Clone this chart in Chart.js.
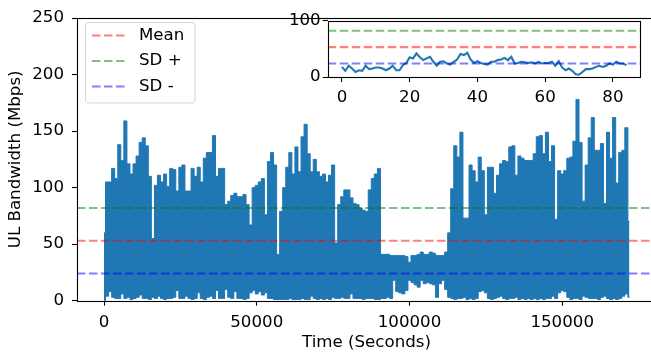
<!DOCTYPE html>
<html>
<head>
<meta charset="utf-8">
<script src="https://cdn.jsdelivr.net/npm/chart.js@4.4.0/dist/chart.umd.min.js"></script>
<style>
  html, body { margin: 0; padding: 0; background: #fff; overflow: hidden; }
  #wrap { position: relative; width: 651px; height: 358px; overflow: hidden; }
  #mainChart { position: absolute; left: 0; top: 0; }
  #insetChart { position: absolute; left: 275px; top: 8px; }
</style>
</head>
<body>
<div id="wrap">
  <canvas id="mainChart" width="656" height="358"></canvas>
  <canvas id="insetChart" width="376" height="100"></canvas>
</div>
<script>
// UL bandwidth envelope, one sample every 1000 s
const sampleStep = 1000;
const bwHigh = [
  60, 105, 105, 117, 108, 138, 124, 159, 121, 112,
  121, 128, 140, 144, 137, 110, 55, 102, 111, 105,
  112, 101, 117, 116, 97, 118, 120, 97, 97, 117,
  110, 118, 105, 126, 131, 131, 146, 110, 117, 117,
  85, 88, 93, 95, 92, 92, 94, 85, 67, 100,
  102, 105, 108, 76, 123, 131, 120, 41, 79, 100,
  118, 131, 112, 136, 114, 145, 156, 130, 114, 125,
  114, 110, 112, 105, 111, 120, 51, 85, 92, 98,
  98, 91, 86, 85, 82, 80, 79, 98, 108, 112,
  117, 41, 41, 41, 40, 40, 40, 40, 40, 39,
  34, 40, 40, 41, 43, 41, 41, 43, 42, 40,
  40, 40, 43, 60, 99, 137, 127, 149, 73, 73,
  120, 115, 105, 127, 115, 76, 118, 118, 95, 111,
  121, 124, 123, 136, 137, 111, 128, 126, 124, 124,
  124, 130, 145, 146, 130, 149, 123, 137, 72, 115,
  112, 115, 126, 127, 141, 178, 140, 88, 120, 144,
  162, 133, 133, 139, 86, 149, 126, 162, 104, 131,
  133, 153, 70
];
const bwLow = [
  0, 4, 8, 3, 2, 2, 6, 2, 3, 1,
  2, 3, 5, 2, 2, 1, 3, 2, 4, 2,
  1, 2, 2, 3, 9, 2, 2, 4, 2, 1,
  2, 7, 2, 1, 3, 4, 2, 9, 2, 2,
  10, 3, 2, 8, 2, 2, 1, 2, 7, 9,
  6, 8, 5, 7, 2, 2, 1, 1, 1, 1,
  1, 2, 1, 1, 1, 2, 1, 1, 4, 2,
  1, 2, 1, 2, 1, 3, 2, 2, 3, 2,
  2, 6, 2, 2, 2, 1, 2, 2, 2, 1,
  1, 2, 2, 3, 2, 18, 8, 7, 6, 9,
  18, 16, 14, 12, 18, 15, 16, 15, 14, 3,
  15, 18, 10, 3, 2, 1, 2, 2, 3, 1,
  2, 1, 2, 8, 9, 7, 2, 1, 2, 3,
  4, 2, 1, 2, 2, 3, 1, 2, 1, 2,
  1, 2, 1, 2, 1, 2, 2, 4, 2, 7,
  9, 8, 3, 1, 2, 2, 1, 4, 3, 2,
  2, 2, 1, 3, 4, 2, 1, 2, 1, 2,
  4, 6, 3
];

// reference lines
const meanBw = 53;
const sdPlusBw = 82;
const sdMinusBw = 24;

// inset series (first 85 samples)
const insetBw = [
  18, 11, 20, 15, 9, 12, 11, 20, 14, 15,
  17, 17, 15, 12, 15, 20, 12, 12, 21, 25,
  35, 33, 42, 35, 30, 33, 36, 27, 20, 27,
  28, 24, 22, 27, 31, 41, 39, 43, 31, 25,
  28, 25, 23, 22, 27, 27, 30, 31, 34, 30,
  36, 24, 25, 27, 26, 25, 26, 24, 27, 24,
  25, 25, 27, 20, 28, 17, 12, 15, 11, 5,
  4, 9, 14, 14, 15, 18, 20, 18, 20, 24,
  22, 27, 24, 24, 21
];

const xTicks = [0, 50000, 100000, 150000];
const yTicks = [0, 50, 100, 150, 200, 250];
const insetXTicks = [0, 20, 40, 60, 80];
const insetYTicks = [0, 100];

const xMin = -8840, xMax = 180700;
const insetXMin = -4.2, insetXMax = 88.2;

const blue = '#1f77b4';
const dash = [8.5, 3.5];
const refLines = [
  { label: 'Mean', value: meanBw, color: 'rgba(255,0,0,0.5)' },
  { label: 'SD +', value: sdPlusBw, color: 'rgba(0,128,0,0.5)' },
  { label: 'SD -', value: sdMinusBw, color: 'rgba(0,0,255,0.5)' }
];

Chart.defaults.font.family = 'DejaVu Sans';
Chart.defaults.font.size = 16.67;
Chart.defaults.color = '#000';

function refDatasets(lo, hi) {
  return refLines.map(r => ({
    label: r.label,
    data: [{ x: lo, y: r.value }, { x: hi, y: r.value }],
    borderColor: r.color,
    borderWidth: 2.08,
    borderDash: dash,
    pointRadius: 0,
    fill: false,
    order: 0
  }));
}

function fixedTicks(values) {
  return scale => { scale.ticks = values.map(v => ({ value: v })); };
}

// white face (optional) and black box around the plot area
const framePlugin = {
  id: 'frame',
  beforeDatasetsDraw(chart, args, opts) {
    if (!opts.face) return;
    const { ctx, chartArea: a } = chart;
    ctx.save();
    ctx.fillStyle = '#fff';
    ctx.fillRect(a.left, a.top, a.right - a.left, a.bottom - a.top);
    ctx.restore();
  },
  afterDatasetsDraw(chart) {
    const { ctx, chartArea: a } = chart;
    const l = Math.round(a.left) + 0.5, t = Math.round(a.top) + 0.5;
    const r = Math.round(a.right) - 0.5, b = Math.round(a.bottom) + 0.5;
    ctx.save();
    ctx.strokeStyle = '#000';
    ctx.lineWidth = 1.1;
    ctx.strokeRect(l, t, r - l, b - t);
    ctx.restore();
  }
};

// matplotlib-like legend box in the upper left corner
const legendBoxPlugin = {
  id: 'legendBox',
  afterDraw(chart) {
    const { ctx } = chart;
    const x0 = 85.5, y0 = 22.5, w = 109.5, h = 80.5, rad = 3;
    ctx.save();
    ctx.beginPath();
    ctx.roundRect(x0, y0, w, h, rad);
    ctx.fillStyle = 'rgba(255,255,255,0.8)';
    ctx.fill();
    ctx.strokeStyle = 'rgba(204,204,204,0.8)';
    ctx.lineWidth = 1;
    ctx.stroke();
    ctx.font = '16.67px "DejaVu Sans"';
    ctx.textBaseline = 'middle';
    ctx.textAlign = 'left';
    refLines.forEach((r, i) => {
      const y = 35.5 + i * 25.5;
      ctx.beginPath();
      ctx.setLineDash(dash);
      ctx.strokeStyle = r.color;
      ctx.lineWidth = 2.08;
      ctx.moveTo(92, y);
      ctx.lineTo(125.5, y);
      ctx.stroke();
      ctx.setLineDash([]);
      ctx.fillStyle = '#000';
      ctx.fillText(r.label, 139, y);
    });
    ctx.restore();
  }
};

const highPts = bwHigh.map((v, i) => ({ x: i * sampleStep, y: v }));
const lowPts = bwLow.map((v, i) => ({ x: i * sampleStep, y: v }));

new Chart(document.getElementById('mainChart'), {
  type: 'line',
  data: {
    datasets: [
      ...refDatasets(xMin, xMax),
      {
        label: 'UL',
        data: highPts,
        borderColor: blue,
        backgroundColor: blue,
        borderWidth: 1,
        pointRadius: 0,
        stepped: 'middle',
        fill: '+1',
        order: 1
      },
      {
        label: 'UL low',
        data: lowPts,
        borderColor: blue,
        borderWidth: 1,
        pointRadius: 0,
        stepped: 'middle',
        fill: false,
        order: 2
      }
    ]
  },
  options: {
    responsive: false,
    animation: false,
    layout: { padding: { top: 14, left: 0, right: 0, bottom: 0 } },
    plugins: {
      legend: { display: false },
      tooltip: { enabled: false },
      frame: { face: false }
    },
    scales: {
      x: {
        type: 'linear',
        min: xMin,
        max: xMax,
        afterBuildTicks: fixedTicks(xTicks),
        afterFit: s => { s.height = 57.3; },
        grid: { drawOnChartArea: false, tickLength: 5, tickColor: '#000', tickWidth: 1.1 },
        border: { display: false },
        ticks: { padding: 7, maxRotation: 0, autoSkip: false, callback: v => String(v) },
        title: { display: true, text: 'Time (Seconds)', padding: { top: 0, bottom: 5 } }
      },
      y: {
        type: 'linear',
        min: 0,
        max: 250,
        afterBuildTicks: fixedTicks(yTicks),
        afterFit: s => { s.width = 77; },
        grid: { drawOnChartArea: false, tickLength: 5, tickColor: '#000', tickWidth: 1.1 },
        border: { display: false },
        ticks: { padding: 8, callback: v => String(v) },
        title: { display: true, text: 'UL Bandwidth (Mbps)', padding: { top: 6, bottom: 0 } }
      }
    }
  },
  plugins: [framePlugin, legendBoxPlugin]
});

new Chart(document.getElementById('insetChart'), {
  type: 'line',
  data: {
    datasets: [
      ...refDatasets(insetXMin, insetXMax),
      {
        label: 'inset',
        data: insetBw.map((v, i) => ({ x: i, y: v })),
        borderColor: blue,
        borderWidth: 2.08,
        pointRadius: 0,
        fill: false,
        order: 1
      }
    ]
  },
  options: {
    responsive: false,
    animation: false,
    layout: { padding: { top: 12.7, left: 0, right: 10.3, bottom: 0 } },
    plugins: {
      legend: { display: false },
      tooltip: { enabled: false },
      frame: { face: true }
    },
    scales: {
      x: {
        type: 'linear',
        min: insetXMin,
        max: insetXMax,
        afterBuildTicks: fixedTicks(insetXTicks),
        afterFit: s => { s.height = 31; },
        grid: { drawOnChartArea: false, tickLength: 5, tickColor: '#000', tickWidth: 1.1 },
        border: { display: false },
        ticks: { padding: 6, maxRotation: 0, autoSkip: false, callback: v => String(v) }
      },
      y: {
        type: 'linear',
        min: 0,
        max: 100,
        afterBuildTicks: fixedTicks(insetYTicks),
        afterFit: s => { s.width = 52.7; },
        grid: { drawOnChartArea: false, tickLength: 5, tickColor: '#000', tickWidth: 1.1 },
        border: { display: false },
        ticks: { padding: 2, callback: v => String(v) }
      }
    }
  },
  plugins: [framePlugin]
});
</script>
</body>
</html>
